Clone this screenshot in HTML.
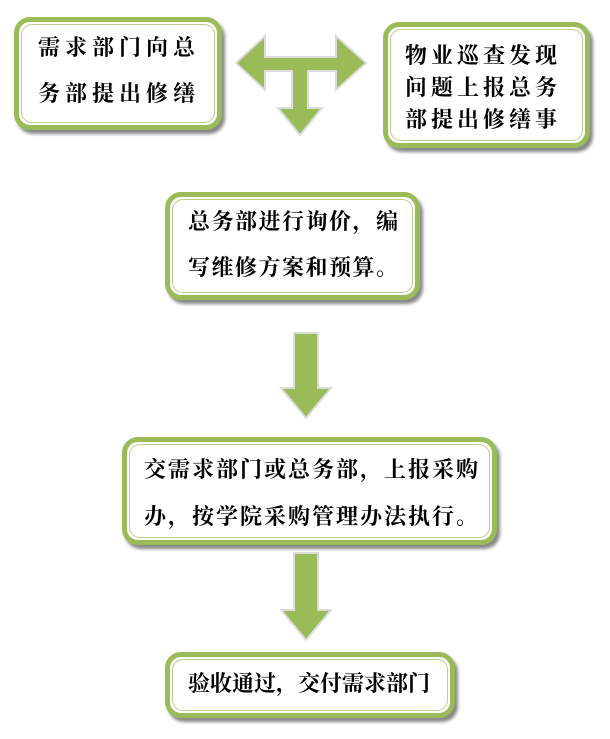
<!DOCTYPE html>
<html><head><meta charset="utf-8"><style>
body{margin:0;width:610px;height:739px;background:#fff;position:relative;overflow:hidden;font-family:"Liberation Serif","Noto Serif CJK SC",serif;font-weight:bold;color:#000}
.b{position:absolute;box-sizing:border-box;border:5px solid #9bbb59;border-radius:16px;background:#fff;box-shadow:3px 4px 3px #888}
.b:after{content:"";position:absolute;left:2px;top:2px;right:2px;bottom:2px;border:1px solid #b8cf88;border-radius:11px}
.t{position:absolute;font-size:22px;white-space:nowrap;line-height:22px}
svg{position:absolute;left:0;top:0}
</style></head><body>
<svg width="610" height="739">
<g fill="#9bbb59" stroke="#dcdcdc" stroke-width="2">
<polygon points="236,63 265,36 265,57 336,57 336,36 366,63 336,90 336,71 308,71 308,108 322,108 300,135 278,108 292,108 292,71 265,71 265,90"/>
<polygon points="294,333 318,333 318,388 331,388 306,418 281,388 294,388"/>
<polygon points="294,553 318,553 318,610 331,610 306,640 281,610 294,610"/>
</g>
</svg>
<div class="b" style="left:14px;top:17px;width:208px;height:113px"></div>
<div class="t" style="left:38px;top:37px;letter-spacing:5px">需求部门向总</div>
<div class="t" style="left:38px;top:83px;letter-spacing:5px">务部提出修缮</div>
<div class="b" style="left:383px;top:22px;width:207px;height:126px"></div>
<div class="t" style="left:405px;top:45px;letter-spacing:4px">物业巡查发现</div>
<div class="t" style="left:405px;top:77px;letter-spacing:4px">问题上报总务</div>
<div class="t" style="left:405px;top:109px;letter-spacing:4px">部提出修缮事</div>
<div class="b" style="left:165px;top:192px;width:255px;height:108px"></div>
<div class="t" style="left:188px;top:211px;letter-spacing:1.5px">总务部进行询价，编</div>
<div class="t" style="left:188px;top:257px;letter-spacing:1.5px">写维修方案和预算。</div>
<div class="b" style="left:122px;top:437px;width:375px;height:108px"></div>
<div class="t" style="left:144px;top:459px;letter-spacing:2px">交需求部门或总务部，上报采购</div>
<div class="t" style="left:144px;top:506px;letter-spacing:2px">办，按学院采购管理办法执行。</div>
<div class="b" style="left:165px;top:652px;width:290px;height:66px"></div>
<div class="t" style="left:188px;top:673px">验收通过，交付需求部门</div>
</body></html>
